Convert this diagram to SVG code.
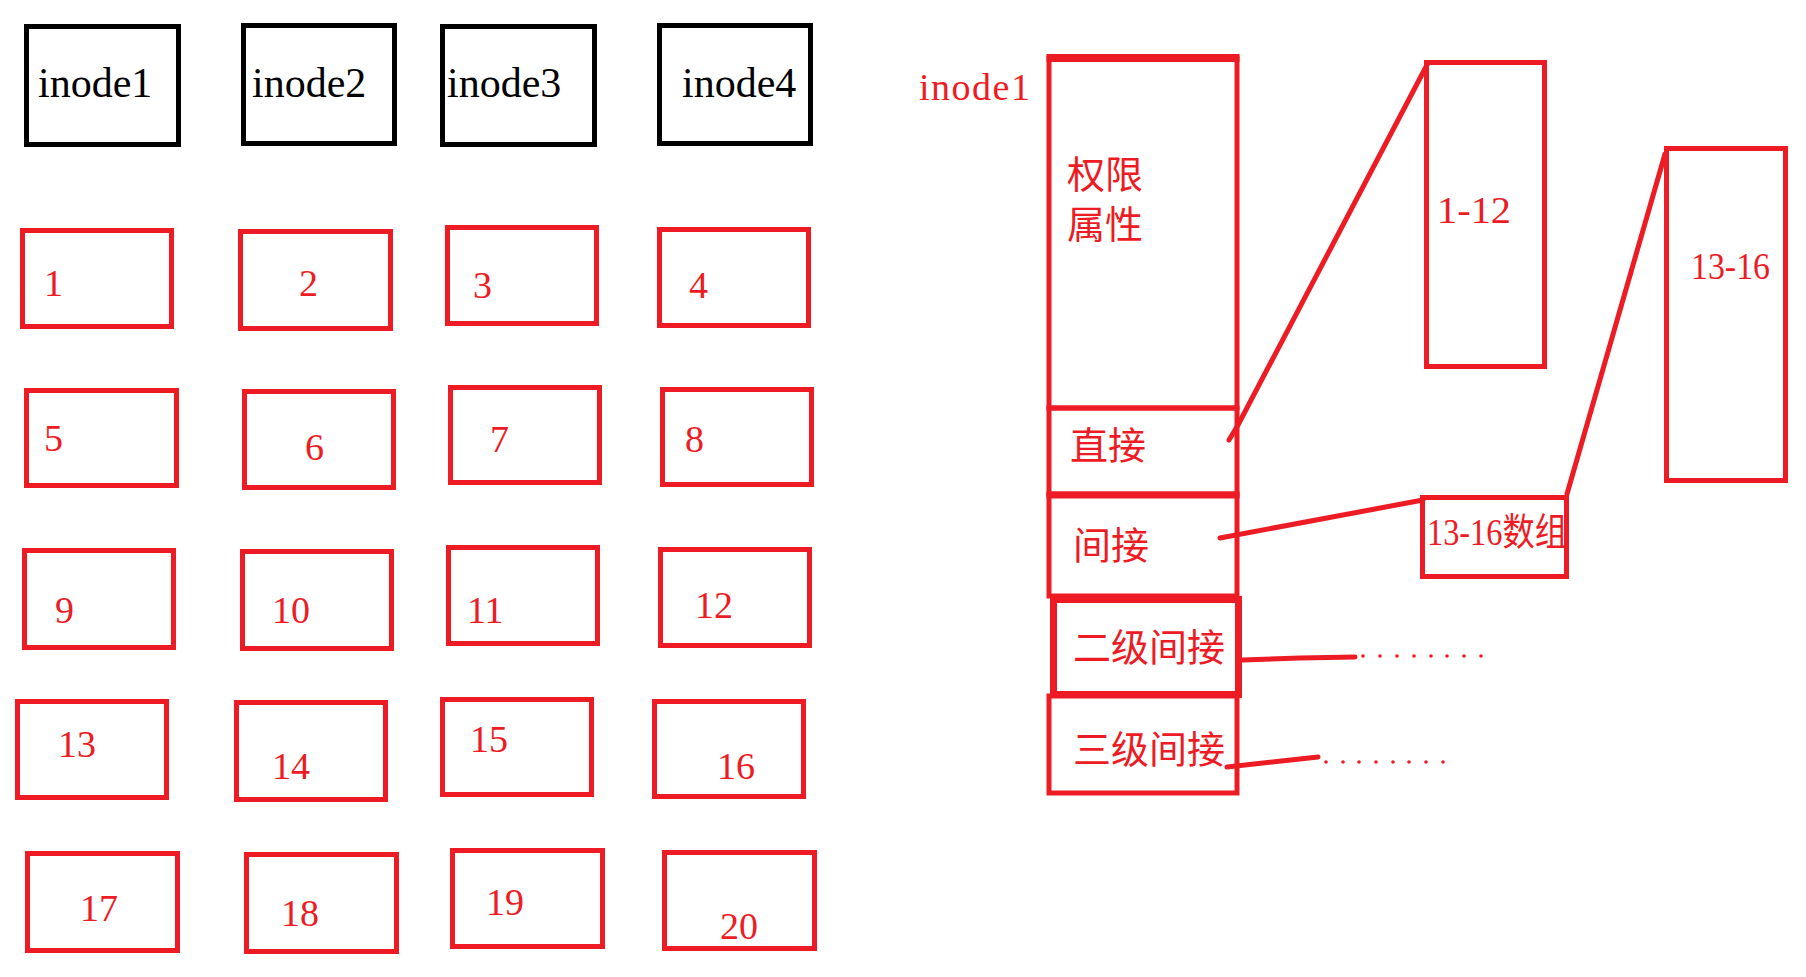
<svg xmlns="http://www.w3.org/2000/svg" width="1806" height="977" viewBox="0 0 1806 977">
<style>
.bk{fill:none;stroke:#000;stroke-width:5}
.rd{fill:none;stroke:#ED1C24;stroke-width:5}
.rdt{fill:none;stroke:#ED1C24;stroke-width:7}
.tb{font-family:"Liberation Serif",serif;font-size:42px;fill:#000}
.tn{font-family:"Liberation Serif",serif;font-size:38px;fill:#ED1C24}
.tc{font-family:"Liberation Serif","Noto Sans CJK SC",serif;font-size:38px;fill:#ED1C24}
.ln{fill:none;stroke:#ED1C24;stroke-width:5;stroke-linecap:round;stroke-linejoin:round}
.dot{fill:#ED1C24}
</style>
<rect width="1806" height="977" fill="#fff"/>
<g id="inode1"><rect class="bk" x="26.5" y="26.5" width="152" height="118"/><text class="tb" x="38" y="97">inode1</text></g>
<g id="inode2"><rect class="bk" x="243.5" y="25.5" width="151" height="118"/><text class="tb" x="252" y="97">inode2</text></g>
<g id="inode3"><rect class="bk" x="442.5" y="26.5" width="152" height="118"/><text class="tb" x="447" y="97">inode3</text></g>
<g id="inode4"><rect class="bk" x="659.5" y="25.5" width="151" height="118"/><text class="tb" x="682" y="97">inode4</text></g>

<g id="b1"><rect class="rd" x="22.5" y="230.5" width="149" height="96"/><text class="tn" x="44" y="296">1</text></g>
<g id="b2"><rect class="rd" x="240.5" y="231.5" width="150" height="97"/><text class="tn" x="299" y="296">2</text></g>
<g id="b3"><rect class="rd" x="447.5" y="227.5" width="149" height="96"/><text class="tn" x="473" y="298">3</text></g>
<g id="b4"><rect class="rd" x="659.5" y="229.5" width="149" height="96"/><text class="tn" x="689" y="298">4</text></g>

<g id="b5"><rect class="rd" x="26.5" y="390.5" width="150" height="95"/><text class="tn" x="44" y="451">5</text></g>
<g id="b6"><rect class="rd" x="244.5" y="391.5" width="149" height="96"/><text class="tn" x="305" y="460">6</text></g>
<g id="b7"><rect class="rd" x="450.5" y="387.5" width="149" height="95"/><text class="tn" x="490" y="452">7</text></g>
<g id="b8"><rect class="rd" x="662.5" y="389.5" width="149" height="95"/><text class="tn" x="685" y="452">8</text></g>

<g id="b9"><rect class="rd" x="24.5" y="550.5" width="149" height="97"/><text class="tn" x="55" y="623">9</text></g>
<g id="b10"><rect class="rd" x="242.5" y="551.5" width="149" height="97"/><text class="tn" x="272" y="623">10</text></g>
<g id="b11"><rect class="rd" x="448.5" y="547.5" width="149" height="96"/><text class="tn" x="467" y="623">11</text></g>
<g id="b12"><rect class="rd" x="660.5" y="549.5" width="149" height="96"/><text class="tn" x="695" y="618">12</text></g>

<g id="b13"><rect class="rd" x="17.5" y="701.5" width="149" height="96"/><text class="tn" x="58" y="757">13</text></g>
<g id="b14"><rect class="rd" x="236.5" y="702.5" width="149" height="97"/><text class="tn" x="272" y="779">14</text></g>
<g id="b15"><rect class="rd" x="442.5" y="699.5" width="149" height="95"/><text class="tn" x="470" y="752">15</text></g>
<g id="b16"><rect class="rd" x="654.5" y="701.5" width="149" height="95"/><text class="tn" x="717" y="779">16</text></g>

<g id="b17"><rect class="rd" x="27.5" y="853.5" width="150" height="97"/><text class="tn" x="80" y="921">17</text></g>
<g id="b18"><rect class="rd" x="246.5" y="854.5" width="150" height="97"/><text class="tn" x="281" y="926">18</text></g>
<g id="b19"><rect class="rd" x="452.5" y="850.5" width="150" height="96"/><text class="tn" x="486" y="915">19</text></g>
<g id="b20"><rect class="rd" x="664.5" y="852.5" width="150" height="96"/><text class="tn" x="720" y="939">20</text></g>

<g id="inode1-label"><text class="tn" x="919" y="100" font-size="34" textLength="111" lengthAdjust="spacing">inode1</text></g>

<g id="inode1-detail">
<rect class="rd" x="1049" y="58" width="188" height="350"/>
<line x1="1046.5" y1="58" x2="1239.5" y2="58" stroke="#ED1C24" stroke-width="8"/>
<text class="tc" x="1067" y="188">权限</text>
<text class="tc" x="1067" y="238">属性</text>
<rect class="rd" x="1049" y="408" width="188" height="86"/>
<text class="tc" x="1070" y="459">直接</text>
<rect class="rd" x="1049" y="495" width="188" height="101"/>
<line x1="1046.5" y1="495" x2="1239.5" y2="495" stroke="#ED1C24" stroke-width="7"/>
<text class="tc" x="1073" y="559">间接</text>
<rect class="rd" x="1049" y="696" width="188" height="97"/>
<rect class="rdt" x="1053.5" y="599.5" width="185" height="95"/>
<text class="tc" x="1073" y="661">二级间接</text>
<text class="tc" x="1073" y="763">三级间接</text>
</g>

<g id="blk-1-12"><rect class="rd" x="1426.5" y="62.5" width="118" height="304"/><text class="tn" x="1437" y="223" font-size="40" textLength="74" lengthAdjust="spacingAndGlyphs">1-12</text></g>
<g id="blk-13-16"><rect class="rd" x="1666.5" y="148.5" width="119" height="332"/><text class="tn" x="1691" y="279" font-size="35" textLength="79" lengthAdjust="spacingAndGlyphs">13-16</text></g>
<g id="blk-13-16-arr"><rect class="rd" x="1422.5" y="497.5" width="144" height="79"/><text class="tc" x="1427" y="545" font-size="33" textLength="140" lengthAdjust="spacingAndGlyphs">13-16数组</text></g>

<g id="connectors">
<polyline class="ln" points="1229,440 1238,425 1428,63"/>
<line class="ln" x1="1220" y1="538" x2="1423" y2="500"/>
<line class="ln" x1="1567" y1="494" x2="1665" y2="154" stroke-width="4"/>
<polyline class="ln" points="1242,660 1300,658 1355,657"/>
<polyline class="ln" points="1227,767 1318,757"/>
<g class="dot">
<circle cx="1363" cy="656" r="1.8"/><circle cx="1380" cy="656" r="1.8"/><circle cx="1397" cy="656" r="1.8"/><circle cx="1414" cy="656" r="1.8"/><circle cx="1431" cy="656" r="1.8"/><circle cx="1447" cy="656" r="1.8"/><circle cx="1464" cy="656" r="1.8"/><circle cx="1481" cy="656" r="1.8"/>
<circle cx="1326" cy="762" r="1.8"/><circle cx="1343" cy="762" r="1.8"/><circle cx="1359" cy="762" r="1.8"/><circle cx="1376" cy="762" r="1.8"/><circle cx="1393" cy="762" r="1.8"/><circle cx="1409" cy="762" r="1.8"/><circle cx="1426" cy="762" r="1.8"/><circle cx="1443" cy="762" r="1.8"/>
</g>
</g>
</svg>
